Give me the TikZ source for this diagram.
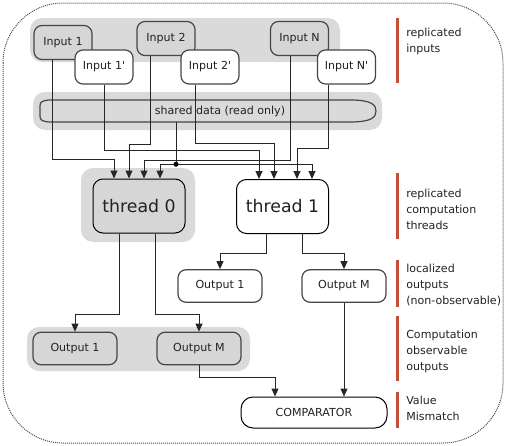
\documentclass[tikz,border=0pt]{standalone}
\usepackage{fontspec}
\setmainfont{DejaVu Sans}
\usetikzlibrary{arrows.meta}
\definecolor{bandgray}{RGB}{218,218,218}
\definecolor{boxgray}{RGB}{214,214,214}
\definecolor{edgegray}{RGB}{70,70,70}
\definecolor{barred}{RGB}{196,78,56}
\definecolor{inkgray}{RGB}{34,34,34}
\tikzset{
    band/.style={fill=bandgray, rounded corners=9pt},
    box/.style={draw=edgegray, line width=0.9pt, rounded corners=6pt, fill=white, inner sep=0pt, text=inkgray, font=\fontsize{8.3}{10}\selectfont},
    inbox/.style={box, minimum width=43.5pt, minimum height=25.5pt},
    outbox/.style={box, minimum width=63pt, minimum height=24.375pt},
    thbox/.style={box, draw=black, line width=0.75pt, rounded corners=7.5pt, minimum width=69pt, minimum height=40.5pt, font=\fontsize{13}{15}\selectfont},
    wire/.style={draw=black!85, line width=0.75pt},
    arr/.style={wire, -{Triangle[length=6pt, width=5.25pt]}},
    lbl/.style={anchor=west, align=left, inner sep=0pt, text=inkgray, font=\fontsize{8.3}{12}\selectfont},
    redbar/.style={draw=barred, line width=2.25pt}
}
\begin{document}
\begin{tikzpicture}[x=0.75pt, y=-0.75pt]
    \useasboundingbox (0, 0) rectangle (507, 446);
    \draw [black!70, line width=0.75pt, dash pattern=on 0.75pt off 0.75pt, rounded corners=45pt] (3, 3) rectangle (503, 443);

    \fill [band] (30, 18) rectangle (340, 62);
    \fill [band] (33, 92) rectangle (382, 130);
    \fill [band] (81, 168) rectangle (195, 242);
    \fill [band] (27, 327) rectangle (250, 371);

    \node [inbox, fill=boxgray] (in1) at (63, 42.5) {Input 1};
    \node [inbox] (in1p) at (104, 67) {Input 1\textquotesingle};
    \node [inbox, fill=boxgray] (in2) at (166, 38.5) {Input 2};
    \node [inbox] (in2p) at (210, 67) {Input 2\textquotesingle};
    \node [inbox, fill=boxgray] (inN) at (299.5, 38.5) {Input N};
    \node [inbox] (inNp) at (346.5, 67) {Input N\textquotesingle};

    \draw [edgegray, line width=0.9pt, fill=bandgray] (52, 100) -- (350, 100) .. controls (372, 100) and (376, 105) .. (376, 111) .. controls (376, 117) and (372, 122) .. (350, 122) -- (52, 122) .. controls (42, 122) and (40, 120) .. (40, 116) -- (40, 106) .. controls (40, 102) and (42, 100) .. (52, 100) -- cycle;
    \node [inner sep=0pt, minimum height=16.5pt, text=inkgray, font=\fontsize{8.3}{10}\selectfont] (shared) at (220, 111) {shared data (read only)};

    \node [thbox, fill=boxgray] (t0) at (139, 206) {thread 0};
    \node [thbox] (t1) at (282.5, 206.5) {thread 1};

    \node [outbox] (o1r) at (220, 286) {Output 1};
    \node [outbox] (oMr) at (344, 286) {Output M};
    \node [outbox, fill=boxgray] (o1l) at (75, 348.5) {Output 1};
    \node [outbox, fill=boxgray] (oMl) at (199, 348.5) {Output M};
    \node [box, draw=black, line width=0.75pt, rounded corners=9pt, minimum width=109.5pt, minimum height=23.25pt] (cmp) at (314, 412.5) {COMPARATOR};

    \draw [arr] ([xshift=-8.25pt]in1.south) -- ++(0, 99) -| ([xshift=-18.75pt]t0.north);
    \draw [arr] (in1p.south) -- ++(0, 66) -| ([xshift=-17.625pt]t1.north);
    \draw [arr] ([xshift=-12pt]in2.south) -- ++(0, 88) -| ([xshift=-7.5pt]t0.north);
    \draw [arr] ([xshift=-11.25pt]in2p.south) -- ++(0, 59) -| ([xshift=-6.375pt]t1.north);
    \draw [arr] ([xshift=-7.125pt]inN.south) -- ++(0, 104) -| ([xshift=3.75pt]t0.north);
    \draw [arr] ([xshift=-13.875pt]inNp.south) -- ++(0, 64) -| ([xshift=10.875pt]t1.north);

    \path ([xshift=-33pt]shared.south) ++(0, 42) coordinate (sj);
    \draw [wire] ([xshift=-33pt]shared.south) -- (sj);
    \draw [arr] (sj) -| ([xshift=15.75pt]t0.north);
    \draw [arr] (sj) -| ([xshift=22.125pt]t1.north);
    \fill [black] (sj) circle [radius=1.9pt];

    \draw [arr] ([xshift=-15pt]t0.south) -- ++(0, 81) -| (o1l.north);
    \draw [arr] ([xshift=12pt]t0.south) -- ++(0, 81) -| (oMl.north);
    \draw [arr] ([xshift=-12.375pt]t1.south) -- ++(0, 19) -| (o1r.north);
    \draw [arr] ([xshift=14.625pt]t1.south) -- ++(0, 19) -| (oMr.north);
    \draw [arr] (oMl.south) -- ++(0, 12) -| ([xshift=-29.25pt]cmp.north);
    \draw [arr] (oMr.south) -- (oMr.south |- cmp.north);

    \node [lbl] (lblin) at (406, 41.5) {replicated\\inputs};
    \node [lbl] (lblth) at (406, 209) {replicated\\computation\\threads};
    \node [lbl] (lbllo) at (406, 285.5) {localized\\outputs\\(non-observable)};
    \node [lbl] (lblco) at (406, 351) {Computation\\observable\\outputs};
    \node [lbl] (lblva) at (406, 408) {Value\\Mismatch};

    \draw [redbar] (397.5, 18) -- (397.5, 83);
    \draw [redbar] (397.5, 173) -- (397.5, 239);
    \draw [redbar] (397.5, 260) -- (397.5, 307);
    \draw [redbar] (397.5, 316) -- (397.5, 381);
    \draw [redbar] (397.5, 392) -- (397.5, 428);
\end{tikzpicture}
\end{document}
